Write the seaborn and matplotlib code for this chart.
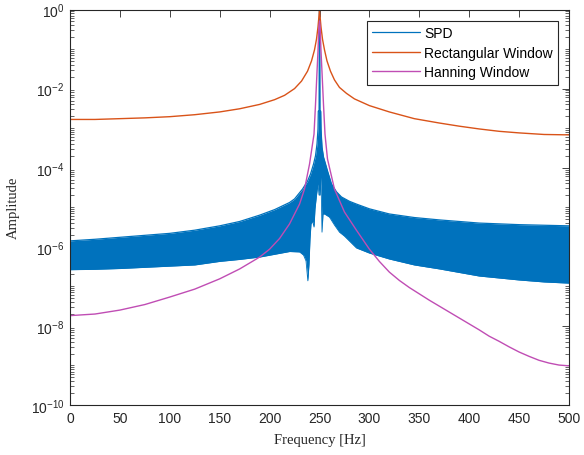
import numpy as np
import pandas as pd
import matplotlib
matplotlib.use("Agg")
import matplotlib.pyplot as plt
import matplotlib.ticker as mticker
import seaborn as sns

# ---------------- data (amplitudes given as log10) ----------------
rect_f = [0, 25, 50, 75, 100, 125, 150, 170, 190, 205, 215, 225, 232, 238, 242, 245, 247, 248.5,
          249.5, 250, 250.5, 251.5, 253, 255, 257.5, 261, 265, 270, 277, 285, 300, 320, 345, 370,
          390, 410, 430, 450, 475, 500]
rect_log = [-2.78, -2.78, -2.76, -2.74, -2.71, -2.66, -2.59, -2.51, -2.40, -2.28, -2.17, -2.00,
            -1.81, -1.56, -1.30, -1.02, -0.75, -0.44, -0.16, 0.0, -0.16, -0.44, -0.75, -1.02,
            -1.30, -1.56, -1.78, -1.97, -2.12, -2.26, -2.43, -2.59, -2.76, -2.87, -2.95, -3.02,
            -3.08, -3.12, -3.16, -3.17]

hann_f = [0, 25, 50, 75, 100, 125, 150, 170, 190, 200, 210, 220, 230, 235, 240, 244.5, 246,
          247.5, 248.5, 249.3, 250, 250.7, 251.5, 252.5, 254, 255.5, 258, 265, 275, 287, 300,
          310, 320, 330, 340, 350, 360, 370, 380, 390, 400, 410, 420, 430, 440, 450, 460, 470,
          480, 490, 500]
hann_log = [-7.74, -7.70, -7.60, -7.46, -7.27, -7.07, -6.81, -6.56, -6.26, -6.06, -5.79, -5.42,
            -4.92, -4.54, -3.91, -3.15, -2.40, -1.58, -1.05, -0.50, -0.29, -0.50, -1.05, -1.58,
            -2.40, -3.15, -3.78, -4.54, -5.12, -5.58, -6.06, -6.37, -6.64, -6.85, -7.03, -7.19,
            -7.35, -7.50, -7.65, -7.80, -7.95, -8.10, -8.26, -8.39, -8.53, -8.66, -8.77, -8.87,
            -8.94, -8.99, -9.01]

spd_up_f = [0, 25, 50, 75, 100, 125, 150, 170, 190, 205, 215, 220, 225, 233, 238, 241, 244, 246,
            247.5, 248.5, 248.8, 249.6, 249.8, 250, 250.2, 250.4, 251.2, 251.5, 252.5, 254, 255.5,
            258, 262, 267, 272, 280, 287, 300, 320, 345, 370, 390, 410, 450, 500]
spd_up_log = [-5.85, -5.81, -5.76, -5.71, -5.66, -5.58, -5.47, -5.36, -5.20, -5.06, -4.94, -4.88,
              -4.79, -4.54, -4.34, -4.16, -3.91, -3.70, -3.40, -3.02, -2.57, -2.57, -0.49, 0.0,
              -0.49, -2.57, -2.57, -3.02, -3.48, -3.73, -3.86, -4.08, -4.41, -4.61, -4.74, -4.85,
              -4.92, -5.04, -5.17, -5.26, -5.32, -5.36, -5.40, -5.44, -5.47]

spd_lo_f = [0, 25, 50, 75, 100, 125, 150, 170, 190, 205, 220, 230, 234, 236.5, 238.3, 239.5,
            240.5, 241.5, 243, 244.5, 245.5, 247, 248.5, 249.5, 250.5, 251.5, 252.5, 253.5, 255,
            260, 265, 270, 275, 287, 300, 320, 345, 370, 390, 410, 430, 450, 475, 500]
spd_lo_log = [-6.58, -6.57, -6.55, -6.52, -6.49, -6.46, -6.37, -6.32, -6.26, -6.19, -6.12, -6.13,
              -6.21, -6.36, -6.86, -6.44, -5.80, -5.42, -5.35, -5.50, -5.04, -4.69, -4.41, -4.69,
              -4.69, -4.24, -5.63, -5.17, -5.17, -5.25, -5.45, -5.63, -5.73, -6.03, -6.16, -6.31,
              -6.46, -6.56, -6.65, -6.74, -6.79, -6.84, -6.89, -6.92]

x_ticks = [0, 50, 100, 150, 200, 250, 300, 350, 400, 450, 500]
labels = ["SPD", "Rectangular Window", "Hanning Window"]

# ---------------- styling ----------------
sns.set_theme(style="white")
plt.rcParams["font.family"] = ["Liberation Sans", "DejaVu Sans"]
plt.rcParams["mathtext.fontset"] = "custom"
plt.rcParams["mathtext.rm"] = "Liberation Sans"
plt.rcParams["mathtext.it"] = "Liberation Sans:italic"
plt.rcParams["mathtext.bf"] = "Liberation Sans:bold"

C_BLUE = "#0072BD"
C_ORANGE = "#D95319"
C_PINK = "#C04DB4"
AX_C = "#262626"

fig = plt.figure(figsize=(5.84, 4.56), dpi=100)
ax = fig.add_axes([70 / 584, 1 - 406 / 456, (569 - 70) / 584, (406 - 10.5) / 456])

rect_df = pd.DataFrame({"f": rect_f, "a": 10 ** np.array(rect_log)})
hann_df = pd.DataFrame({"f": hann_f, "a": 10 ** np.array(hann_log)})
up_df = pd.DataFrame({"f": spd_up_f, "a": 10 ** np.array(spd_up_log)})
lo_df = pd.DataFrame({"f": spd_lo_f, "a": 10 ** np.array(spd_lo_log)})

# SPD band: fill between the envelopes of the dense oscillation
grid = np.union1d(up_df["f"].values, lo_df["f"].values)
up_i = 10 ** np.interp(grid, spd_up_f, spd_up_log)
lo_i = 10 ** np.interp(grid, spd_lo_f, spd_lo_log)
ax.fill_between(grid, lo_i, up_i, color=C_BLUE, linewidth=0)
sns.lineplot(data=up_df, x="f", y="a", ax=ax, color=C_BLUE, lw=0.9, label=labels[0],
             estimator=None, sort=False)
sns.lineplot(data=lo_df, x="f", y="a", ax=ax, color=C_BLUE, lw=0.6, estimator=None,
             sort=False, legend=False)
sns.lineplot(data=rect_df, x="f", y="a", ax=ax, color=C_ORANGE, lw=1.0, label=labels[1],
             estimator=None, sort=False)
sns.lineplot(data=hann_df, x="f", y="a", ax=ax, color=C_PINK, lw=1.0, label=labels[2],
             estimator=None, sort=False)

ax.set_yscale("log")
ax.set_xlim(0, 500)
ax.set_ylim(1e-10, 1)
ax.set_xticks(x_ticks)
ax.set_xticklabels([str(t) for t in x_ticks])
ax.yaxis.set_major_locator(mticker.FixedLocator([1e-10, 1e-8, 1e-6, 1e-4, 1e-2, 1]))
ax.yaxis.set_major_formatter(mticker.LogFormatterSciNotation())
ax.yaxis.set_minor_locator(mticker.LogLocator(base=10, subs=np.arange(1, 10), numticks=100))
ax.yaxis.set_minor_formatter(mticker.NullFormatter())

for s in ax.spines.values():
    s.set_color(AX_C)
    s.set_linewidth(0.8)
ax.tick_params(which="major", direction="in", length=5, width=0.6, color=AX_C,
               top=True, right=True, labelsize=10, labelcolor=AX_C, pad=4)
ax.tick_params(which="minor", direction="in", length=3, width=0.5, color=AX_C,
               left=True, right=True)
ax.tick_params(axis="x", which="minor", bottom=False, top=False)

ax.set_xlabel("Frequency [Hz]", fontsize=10.5, family=["Liberation Serif"], color=AX_C,
              labelpad=6)
ax.set_ylabel("Amplitude", fontsize=10.5, family=["Liberation Serif"], color=AX_C,
              labelpad=8)

leg = ax.legend(loc="upper right", bbox_to_anchor=(0.978, 0.972), borderaxespad=0,
                fontsize=10, frameon=True, fancybox=False, framealpha=1,
                edgecolor=AX_C, handlelength=3.4, handletextpad=0.3, labelspacing=0.4,
                borderpad=0.4)
leg.get_frame().set_linewidth(0.8)
for t in leg.get_texts():
    t.set_color("black")

fig.savefig("out.png", dpi=100)
